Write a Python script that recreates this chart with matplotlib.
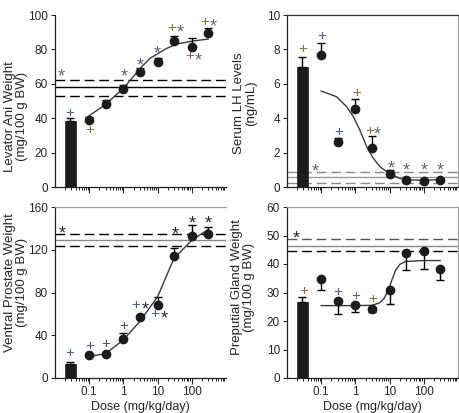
import matplotlib
matplotlib.use("Agg")
import matplotlib.pyplot as plt
from matplotlib.ticker import LogLocator, NullFormatter, FixedLocator, FixedFormatter

plt.rcParams['font.family'] = ['Liberation Sans', 'DejaVu Sans']

doses = [0.1, 0.3, 1, 3, 10, 30, 100, 300]
xticks = [0.1, 1, 10, 100]
xtick_labels = ['0.1', '1', '10', '100']

# ---- Levator Ani ----
la_ctrl = 38.3
la_ctrl_se = 1.9
la_vals = [39.2, 48.5, 56.9, 66.6, 72.4, 84.9, 81.6, 89.3]
la_se = [1.6, 2.0, 2.3, 2.3, 2.4, 3.1, 5.2, 2.9]
la_ref = [62.5, 58.0, 52.8]
la_fit_x = [0.1, 0.29, 1.0, 1.95, 3.1, 6.0, 10.5, 18.5, 36, 110, 300]
la_fit_y = [41.5, 47.7, 57.4, 64.1, 69.0, 74.8, 77.7, 80.6, 83.1, 84.9, 86.0]
la_marks = [(0.015, 67.4, '*', 'c'), (0.0275, 43.7, '+', 'b'), (0.1, 34.0, '+', 'o'),
            (1.05, 67.4, '*', 'c'), (3.1, 73.8, '*', 'c'), (10, 80.6, '*', 'c'),
            (25.8, 93.2, '+', 'o'), (46, 93.2, '*', 'c'), (85, 76.7, '+', 'o'),
            (151, 76.7, '*', 'c'), (245, 96.7, '+', 'o'), (426, 96.7, '*', 'c')]

# ---- Serum LH ----
lh_ctrl = 6.95
lh_ctrl_se = 0.58
lh_vals = [7.67, 2.62, 4.56, 2.29, 0.74, 0.39, 0.33, 0.39]
lh_se = [0.72, 0.25, 0.53, 0.66, 0.23, 0.05, 0.03, 0.05]
lh_ref = [0.87, 0.58, 0.23]
lh_fit_x = [0.1, 0.28, 0.556, 0.87, 1.35, 2.14, 3.34, 5.2, 10.3, 20, 40, 121, 300]
lh_fit_y = [5.58, 5.25, 4.67, 4.09, 3.31, 2.34, 1.67, 1.18, 0.76, 0.50, 0.41, 0.39, 0.44]
lh_marks = [(0.029, 8.1, '+', 'o'), (0.069, 1.22, '*', 'c'), (0.1, 8.87, '+', 'b'),
            (0.317, 3.26, '+', 'b'), (1.09, 5.57, '+', 'o'), (2.55, 3.34, '+', 'o'),
            (4.47, 3.34, '*', 'c'), (11.5, 1.42, '*', 'c'), (30, 1.28, '*', 'c'),
            (100, 1.28, '*', 'c'), (300, 1.28, '*', 'c')]

# ---- Ventral Prostate ----
vp_ctrl = 13.0
vp_ctrl_se = 1.9
vp_vals = [21.1, 22.7, 36.3, 57.5, 68.3, 114.0, 133.0, 134.5]
vp_se = [1.0, 1.0, 5.6, 1.5, 7.8, 7.8, 9.9, 6.8]
vp_ref = [134.8, 129.2, 123.6]
vp_fit_x = [0.1, 0.3, 1, 3, 10, 30, 100, 300]
vp_fit_y = [20.2, 22.7, 35.7, 52.8, 76.0, 111.8, 128.9, 138.9]
vp_marks = [(0.0168, 140.4, '*', 'k'), (0.0275, 24.5, '+', 'b'), (0.1, 31.1, '+', 'b'),
            (0.3, 33.5, '+', 'p'), (1.05, 49.7, '+', 'p'), (2.33, 69.6, '+', 'b'),
            (4.3, 69.6, '*', 'k'), (8.4, 61.2, '+', 'b'), (15.7, 61.2, '*', 'k'),
            (32, 139.2, '*', 'k'), (100, 150, '*', 'k'), (300, 150, '*', 'k')]

# ---- Preputial Gland ----
pg_ctrl = 26.8
pg_ctrl_se = 1.5
pg_vals = [34.8, 27.1, 25.6, 24.2, 30.9, 44.0, 44.4, 38.2]
pg_se = [4.0, 4.7, 2.6, 1.2, 4.9, 6.1, 6.3, 3.8]
pg_ref = [48.6, 46.4, 44.4]
pg_fit_x = [0.1, 1, 3, 5, 7, 10, 12, 15, 20, 30, 100, 300]
pg_fit_y = [25.4, 25.4, 25.5, 26.3, 28.0, 32.0, 34.8, 37.8, 39.9, 40.9, 41.2, 41.2]
pg_marks = [(0.019, 50.9, '*', 'k'), (0.030, 31.1, '+', 'o'), (0.295, 30.8, '+', 'b'),
            (1.0, 29.2, '+', 'b'), (3.2, 28.2, '+', 'o')]

mark_colors = {'b': '#3b5f9e', 'o': '#9a6a2e', 'c': '#5e6884', 'k': '#2a2a2a', 'p': '#6e3a5a'}
txt = '#262626'

fig = plt.figure(figsize=(4.6, 4.13), dpi=100)
W, H = 460.0, 413.0
def axrect(l, t, r, b):
    return [l / W, 1 - b / H, (r - l) / W, (b - t) / H]

panels = [
    dict(rect=axrect(55, 15, 226, 187), ylim=(0, 100), yt=[0, 20, 40, 60, 80, 100],
         ylabel='Levator Ani Weight\n(mg/100 g BW)', lab=(-0.158, 0.41), ctrl=la_ctrl,
         cse=la_ctrl_se, vals=la_vals, se=la_se, side='up', ref=la_ref,
         refstyle=('k', 'k', 'k'), fx=la_fit_x, fy=la_fit_y, marks=la_marks, xl=False,
         frame=(False, False)),
    dict(rect=axrect(287, 15, 458, 187), ylim=(0, 10), yt=[0, 2, 4, 6, 8, 10],
         ylabel='Serum LH Levels\n(ng/mL)', lab=(-0.175, 0.49), ctrl=lh_ctrl, cse=lh_ctrl_se,
         vals=lh_vals, se=lh_se, side='up', ref=lh_ref,
         refstyle=('#8a8a8a', '#9a9a9a', '#8a8a8a'), fx=lh_fit_x, fy=lh_fit_y, marks=lh_marks,
         xl=False, frame=('#333333', '#a0a0a0')),
    dict(rect=axrect(55, 207, 226, 378), ylim=(0, 160), yt=[0, 40, 80, 120, 160],
         ylabel='Ventral Prostate Weight\n(mg/100 g BW)', lab=(-0.158, 0.56), ctrl=vp_ctrl,
         cse=vp_ctrl_se, vals=vp_vals, se=vp_se, side='up', ref=vp_ref,
         refstyle=('k', '#8a8a8a', 'k'), fx=vp_fit_x, fy=vp_fit_y, marks=vp_marks, xl=True,
         frame=('#a0a0a0', False)),
    dict(rect=axrect(287, 207, 458, 378), ylim=(0, 60), yt=[0, 10, 20, 30, 40, 50, 60],
         ylabel='Preputial Gland Weight\n(mg/100 g BW)', lab=(-0.187, 0.53), ctrl=pg_ctrl,
         cse=pg_ctrl_se, vals=pg_vals, se=pg_se, side='down', ref=pg_ref,
         refstyle=('#555555', '#8a8a8a', 'k'), fx=pg_fit_x, fy=pg_fit_y, marks=pg_marks,
         xl=True, frame=('#a0a0a0', '#a0a0a0')),
]

# symbol font sizes and baseline offsets (points) so the glyph ink is centred on the value
sym_style = {'+': (11, -3.9), '*': (13, -7.5)}

for p in panels:
    ax = fig.add_axes(p['rect'])
    ax.set_xscale('log')
    ax.set_xlim(0.01, 1000)
    ax.set_ylim(*p['ylim'])
    c1, c2, c3 = p['refstyle']
    ax.axhline(p['ref'][0], color=c1, lw=1.0, ls=(0, (7, 3.5)), zorder=1)
    ax.axhline(p['ref'][1], color=c2, lw=1.0, ls='-', zorder=1)
    ax.axhline(p['ref'][2], color=c3, lw=1.0, ls=(0, (7, 3.5)), zorder=1)
    ax.bar([0.02], [p['ctrl']], width=[0.02], align='edge', color='#1c1c1c',
           edgecolor='#1c1c1c', lw=0.5, zorder=2)
    ax.errorbar([0.0283], [p['ctrl']], yerr=[[0], [p['cse']]], fmt='none', ecolor='k',
                elinewidth=1, capsize=3, capthick=1, zorder=3)
    ax.plot(p['fx'], p['fy'], color='#3a3a3a', lw=1.0, zorder=3)
    if p['side'] == 'up':
        yerr = [[0] * len(p['se']), p['se']]
    else:
        yerr = [p['se'], [0] * len(p['se'])]
    ax.errorbar(doses, p['vals'], yerr=yerr, fmt='o', color='#1c1c1c', ms=6,
                ecolor='k', elinewidth=1, capsize=3, capthick=1, zorder=4)
    for (mx, my, s, c) in p['marks']:
        fs, dy = sym_style[s]
        ax.annotate(s, (mx, my), xytext=(0, dy), textcoords='offset points',
                    ha='center', va='baseline', fontsize=fs, color=mark_colors[c],
                    zorder=5, annotation_clip=False)
    ax.set_yticks(p['yt'])
    ax.tick_params(axis='both', direction='out', labelsize=8.5, colors=txt, width=0.8, pad=2)
    ax.tick_params(axis='x', which='major', length=4)
    ax.tick_params(axis='x', which='minor', length=2, width=0.6)
    ax.tick_params(axis='y', length=3)
    ax.xaxis.set_major_locator(FixedLocator(xticks))
    ax.xaxis.set_minor_locator(LogLocator(base=10, subs=range(2, 10), numticks=20))
    ax.xaxis.set_minor_formatter(NullFormatter())
    if p['xl']:
        ax.xaxis.set_major_formatter(FixedFormatter(xtick_labels))
        ax.set_xlabel('Dose (mg/kg/day)', fontsize=9, color=txt, labelpad=2)
    else:
        ax.xaxis.set_major_formatter(NullFormatter())
    ax.set_ylabel(p['ylabel'], fontsize=9.5, color=txt, linespacing=1.05)
    ax.yaxis.set_label_coords(*p['lab'])
    top, right = p['frame']
    for sp in ('left', 'bottom'):
        ax.spines[sp].set_color('#222222')
        ax.spines[sp].set_linewidth(0.9)
    if top:
        ax.spines['top'].set_color(top)
        ax.spines['top'].set_linewidth(0.9)
    else:
        ax.spines['top'].set_visible(False)
    if right:
        ax.spines['right'].set_color(right)
        ax.spines['right'].set_linewidth(0.9)
    else:
        ax.spines['right'].set_visible(False)

fig.savefig('out.png', dpi=100)
